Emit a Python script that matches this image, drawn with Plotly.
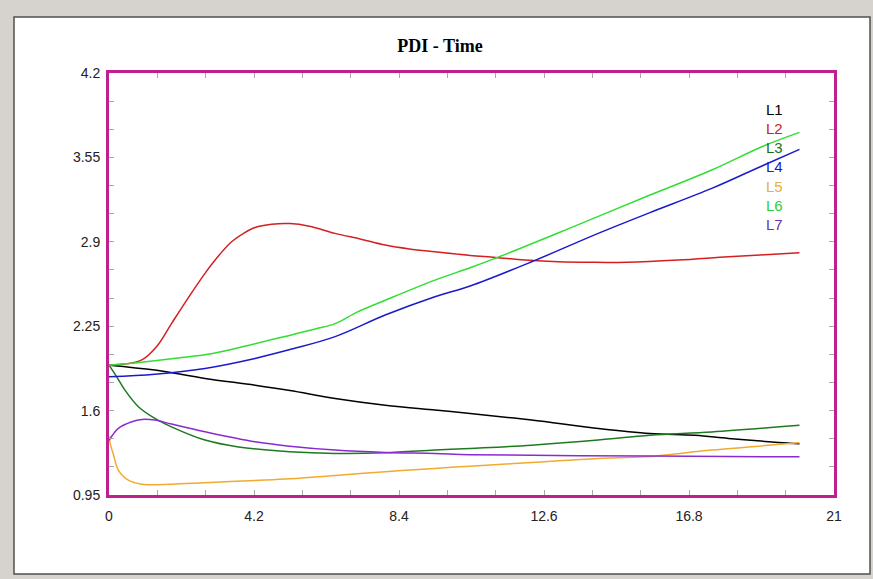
import plotly.graph_objects as go

# PDI values over time for seven lines
t_L1 = [0, 1.33, 2.78, 4.23, 5.24, 6.55, 8.0, 9.44, 10.46, 12.24, 14.17, 15.67, 16.98, 17.94, 19.39, 20.0]
pdi_L1 = [1.95, 1.912, 1.848, 1.796, 1.755, 1.694, 1.642, 1.604, 1.578, 1.527, 1.463, 1.424, 1.41, 1.386, 1.355, 1.345]

t_L2 = [0, 0.5, 0.95, 1.4, 1.81, 2.3, 2.78, 3.2, 3.55, 3.9, 4.23, 4.71, 5.24, 5.8, 6.55, 7.3, 8.0, 8.7,
        9.44, 10.46, 11.2, 12.05, 13.02, 14.0, 15.0, 16.49, 17.94, 19.0, 20.0]
pdi_L2 = [1.95, 1.96, 1.99, 2.1, 2.27, 2.47, 2.657, 2.8, 2.9, 2.965, 3.01, 3.035, 3.04, 3.02, 2.965, 2.92,
          2.875, 2.845, 2.823, 2.795, 2.78, 2.76, 2.746, 2.742, 2.743, 2.76, 2.785, 2.80, 2.815]

t_L3 = [0, 0.2, 0.46, 0.85, 1.33, 1.81, 2.78, 3.75, 5.24, 6.55, 8.0, 9.44, 10.46, 12.24, 14.17, 15.67, 17.46, 20.0]
pdi_L3 = [1.95, 1.87, 1.758, 1.63, 1.54, 1.475, 1.373, 1.32, 1.283, 1.27, 1.275, 1.296, 1.309, 1.334, 1.373,
          1.411, 1.436, 1.488]

t_L4 = [0, 1.33, 2.78, 4.23, 5.24, 6.55, 8.0, 9.44, 10.46, 12.24, 14.17, 15.67, 17.46, 18.96, 20.0]
pdi_L4 = [1.86, 1.88, 1.925, 2.002, 2.07, 2.17, 2.336, 2.477, 2.56, 2.746, 2.965, 3.125, 3.311, 3.49, 3.612]

t_L5 = [0, 0.05, 0.12, 0.27, 0.56, 0.95, 1.81, 2.78, 4.23, 5.24, 6.55, 8.0, 9.44, 10.46, 12.24, 14.17, 15.53,
        17.46, 20.0]
pdi_L5 = [1.40, 1.33, 1.27, 1.142, 1.064, 1.033, 1.033, 1.045, 1.062, 1.075, 1.1, 1.13, 1.155, 1.172, 1.2,
          1.231, 1.244, 1.296, 1.352]

t_L6 = [0, 1.0, 2.0, 3.0, 4.0, 5.0, 6.0, 6.55, 7.2, 8.0, 9.44, 10.46, 11.18, 13.21, 15.67, 17.46, 18.96, 20.0]
pdi_L6 = [1.95, 1.975, 2.005, 2.04, 2.10, 2.165, 2.23, 2.27, 2.36, 2.45, 2.605, 2.70, 2.772, 2.99, 3.26,
          3.453, 3.638, 3.743]

t_L7 = [0, 0.1, 0.27, 0.66, 0.95, 1.33, 1.81, 2.78, 4.23, 5.24, 6.55, 8.0, 9.44, 10.46, 15.67, 20.0]
pdi_L7 = [1.37, 1.41, 1.463, 1.514, 1.532, 1.527, 1.496, 1.437, 1.36, 1.326, 1.296, 1.278, 1.27, 1.26, 1.25,
          1.244]

names = ["L1", "L2", "L3", "L4", "L5", "L6", "L7"]
times = [t_L1, t_L2, t_L3, t_L4, t_L5, t_L6, t_L7]
values = [pdi_L1, pdi_L2, pdi_L3, pdi_L4, pdi_L5, pdi_L6, pdi_L7]
line_colors = ["#000000", "#d42020", "#1e7a1e", "#1a1acc", "#f2aa30", "#33dd33", "#8a2bd0"]
label_colors = ["#000000", "#cc2222", "#1e6e1e", "#1a1acc", "#e8b040", "#33cc33", "#7030a0"]

x_ticks = [0, 4.2, 8.4, 12.6, 16.8, 21]
y_ticks = [0.95, 1.6, 2.25, 2.9, 3.55, 4.2]

W, H = 873, 579
L, R, T, B = 109, 834, 73, 495  # plot area in pixels

fig = go.Figure()
for name, t, v, c in zip(names, times, values, line_colors):
    fig.add_trace(go.Scatter(x=t, y=v, mode="lines", name=name,
                             line=dict(color=c, width=1.5, shape="spline", smoothing=1.0)))

def px_x(p):
    return (p - L) / (R - L)

def px_y(p):
    return (B - p) / (B - T)

# Outer framed panel
fig.add_shape(type="rect", xref="paper", yref="paper",
              x0=px_x(14), x1=px_x(870), y0=px_y(574), y1=px_y(17),
              fillcolor="white", line=dict(color="#505050", width=1.5), layer="below")

# Text-only legend
for i, (name, c) in enumerate(zip(names, label_colors)):
    fig.add_annotation(text=name, xref="paper", yref="paper",
                       x=px_x(764), y=px_y(109 + 19.3 * i), xanchor="left", yanchor="middle",
                       showarrow=False, font=dict(family="Liberation Sans, Arial", size=15, color=c))

axis_common = dict(showline=True, linecolor="#c0208f", linewidth=3, mirror="ticks",
                   ticks="inside", ticklen=5, tickcolor="#a8a8a8", tickwidth=1,
                   showgrid=False, zeroline=False,
                   tickfont=dict(family="Liberation Sans, Arial", size=14, color="#222222"))

fig.update_xaxes(range=[0, 21], tickvals=x_ticks, ticktext=[f"{v:g}" for v in x_ticks],
                 minor=dict(dtick=1.4, tick0=0, ticks="inside", ticklen=5, tickcolor="#a8a8a8"),
                 ticklabelstandoff=6, **axis_common)
fig.update_yaxes(range=[0.95, 4.2], tickvals=y_ticks, ticktext=[f"{v:g}" for v in y_ticks],
                 minor=dict(dtick=0.65 / 3, tick0=0.95, ticks="inside", ticklen=5, tickcolor="#a8a8a8"),
                 ticklabelstandoff=3, **axis_common)

fig.update_layout(
    width=W, height=H,
    margin=dict(l=L, r=W - R, t=T, b=H - B, pad=0),
    paper_bgcolor="#d6d3ce", plot_bgcolor="white",
    showlegend=False,
    title=dict(text="<b>PDI - Time</b>", xref="container", yref="container",
               x=440 / W, y=1 - 46 / H, xanchor="center", yanchor="middle",
               font=dict(family="Liberation Serif, Times New Roman", size=18, color="#000000")),
)

fig.write_html("out.html")
